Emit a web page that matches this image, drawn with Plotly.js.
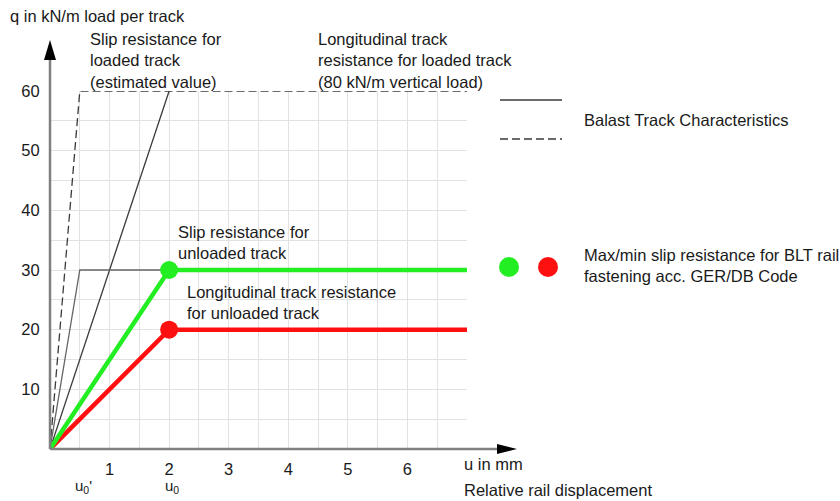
<!DOCTYPE html>
<html>
<head>
<meta charset="utf-8">
<script src="https://cdn.plot.ly/plotly-3.0.1.min.js"></script>
<style>html,body{margin:0;padding:0;background:#fff;}#chart{width:840px;height:501px;}</style>
</head>
<body>
<div id="chart"></div>
<script>
// ---- data (displacement u in mm, resistance q in kN/m) ----
var slipLoadedU = [0, 0.5, 7];
var slipLoadedQ = [0, 60, 60];
var longLoadedU = [0, 2];
var longLoadedQ = [0, 60];
var slipUnloadedU = [0, 0.5, 2];
var slipUnloadedQ = [0, 30, 30];
var bltMaxU = [0, 2, 7];
var bltMaxQ = [0, 30, 30];
var bltMinU = [0, 2, 7];
var bltMinQ = [0, 20, 20];
var markerU = [2, 2];
var markerQ = [30, 20];

var xTickVals = [0.5, 1, 1.5, 2, 2.5, 3, 3.5, 4, 4.5, 5, 5.5, 6, 6.5, 7];
var xTickText = ['', '1', '', '2', '', '3', '', '4', '', '5', '', '6', '', ''];
var yTickVals = [5, 10, 15, 20, 25, 30, 35, 40, 45, 50, 55, 60];
var yTickText = ['', '10', '', '20', '', '30', '', '40', '', '50', '', '60'];

// ---- page geometry helpers (decorations only) ----
var L = 50, R = 373, T = 91, B = 52, W = 840, H = 501;
var PW = W - L - R, PH = H - T - B;
function px(x) { return (x - L) / PW; }
function py(y) { return (H - B - y) / PH; }

var FONT = '"Liberation Sans", Arial, sans-serif';
var TXT = '#1a1a1a';
var FS = 16.5;

var darkLine = '#3a3a3a';
var traces = [
  {x: slipLoadedU, y: slipLoadedQ, mode: 'lines', line: {color: darkLine, width: 1.3, dash: '8px,4px'}, cliponaxis: false},
  {x: longLoadedU, y: longLoadedQ, mode: 'lines', line: {color: darkLine, width: 1.3}},
  {x: slipUnloadedU, y: slipUnloadedQ, mode: 'lines', line: {color: '#666666', width: 1.3}},
  {x: bltMinU, y: bltMinQ, mode: 'lines', line: {color: '#ff1010', width: 4.5}},
  {x: bltMaxU, y: bltMaxQ, mode: 'lines', line: {color: '#22ee22', width: 4.5}},
  {x: markerU, y: markerQ, mode: 'markers', cliponaxis: false,
   marker: {size: 18, color: ['#22ee22', '#ff1010'], line: {width: 0}}}
];

function ann(text, xpx, ypx, anchor, size) {
  return {text: text, xref: 'paper', yref: 'paper', x: px(xpx), y: py(ypx),
          xanchor: anchor || 'left', yanchor: 'middle', showarrow: false,
          align: 'left', font: {family: FONT, size: size || FS, color: TXT}};
}

var annotations = [
  ann('q in kN/m load per track', 8, 16),
  ann('Slip resistance for<br>loaded track<br>(estimated value)', 88, 61),
  ann('Longitudinal track<br>resistance for loaded track<br>(80 kN/m vertical load)', 316, 61),
  ann('Slip resistance for<br>unloaded track', 176, 242),
  ann('Longitudinal track resistance<br>for unloaded track', 185, 302),
  ann('Balast Track Characteristics', 582, 120),
  ann('Max/min slip resistance for BLT rail<br>fastening acc. GER/DB Code', 582, 265),
  ann('u in mm', 462, 464),
  ann('Relative rail displacement', 462, 490),
  ann('u<sub>0</sub>\'', 83, 486, 'center', 15),
  ann('u<sub>0</sub>', 172, 486, 'center', 15)
];

var axisCol = '#808080';
var shapes = [
  // axes lines with arrows
  {type: 'line', xref: 'paper', yref: 'paper', x0: px(50), y0: py(449), x1: px(500), y1: py(449), line: {color: axisCol, width: 2.5}},
  {type: 'line', xref: 'paper', yref: 'paper', x0: px(50), y0: py(449), x1: px(50), y1: py(58), line: {color: axisCol, width: 2.5}},
  {type: 'path', xref: 'paper', yref: 'paper', fillcolor: '#000', line: {width: 0},
   path: 'M' + px(497) + ',' + py(444) + ' L' + px(517) + ',' + py(449) + ' L' + px(497) + ',' + py(454) + ' Z'},
  {type: 'path', xref: 'paper', yref: 'paper', fillcolor: '#000', line: {width: 0},
   path: 'M' + px(44) + ',' + py(60) + ' L' + px(50) + ',' + py(40) + ' L' + px(56) + ',' + py(60) + ' Z'},
  // legend samples
  {type: 'line', xref: 'paper', yref: 'paper', x0: px(500), y0: py(100), x1: px(562), y1: py(100), line: {color: darkLine, width: 1.3}},
  {type: 'line', xref: 'paper', yref: 'paper', x0: px(500), y0: py(139), x1: px(562), y1: py(139), line: {color: darkLine, width: 1.3, dash: '8px,4px'}},
  {type: 'circle', xref: 'paper', yref: 'paper', x0: px(499), y0: py(257), x1: px(519), y1: py(277), fillcolor: '#22ee22', line: {width: 0}},
  {type: 'circle', xref: 'paper', yref: 'paper', x0: px(538), y0: py(257), x1: px(558), y1: py(277), fillcolor: '#ff1010', line: {width: 0}}
];

var layout = {
  width: W, height: H,
  margin: {l: L, r: R, t: T, b: B, pad: 0},
  paper_bgcolor: '#fff', plot_bgcolor: '#fff',
  showlegend: false,
  font: {family: FONT, size: FS, color: TXT},
  xaxis: {range: [0, 7], tickmode: 'array', tickvals: xTickVals, ticktext: xTickText,
          showgrid: true, gridcolor: '#e2e2e2', gridwidth: 1, zeroline: false, showline: false,
          ticks: 'outside', ticklen: 0, tickcolor: 'rgba(0,0,0,0)', ticklabelstandoff: 5,
          tickfont: {family: FONT, size: FS, color: TXT}, fixedrange: true},
  yaxis: {range: [0, 60], tickmode: 'array', tickvals: yTickVals, ticktext: yTickText,
          showgrid: true, gridcolor: '#e2e2e2', gridwidth: 1, zeroline: false, showline: false,
          ticks: 'outside', ticklen: 0, tickcolor: 'rgba(0,0,0,0)', ticklabelstandoff: 6,
          tickfont: {family: FONT, size: FS, color: TXT}, fixedrange: true},
  annotations: annotations,
  shapes: shapes
};

Plotly.newPlot('chart', traces, layout, {displayModeBar: false, staticPlot: true});
</script>
</body>
</html>
